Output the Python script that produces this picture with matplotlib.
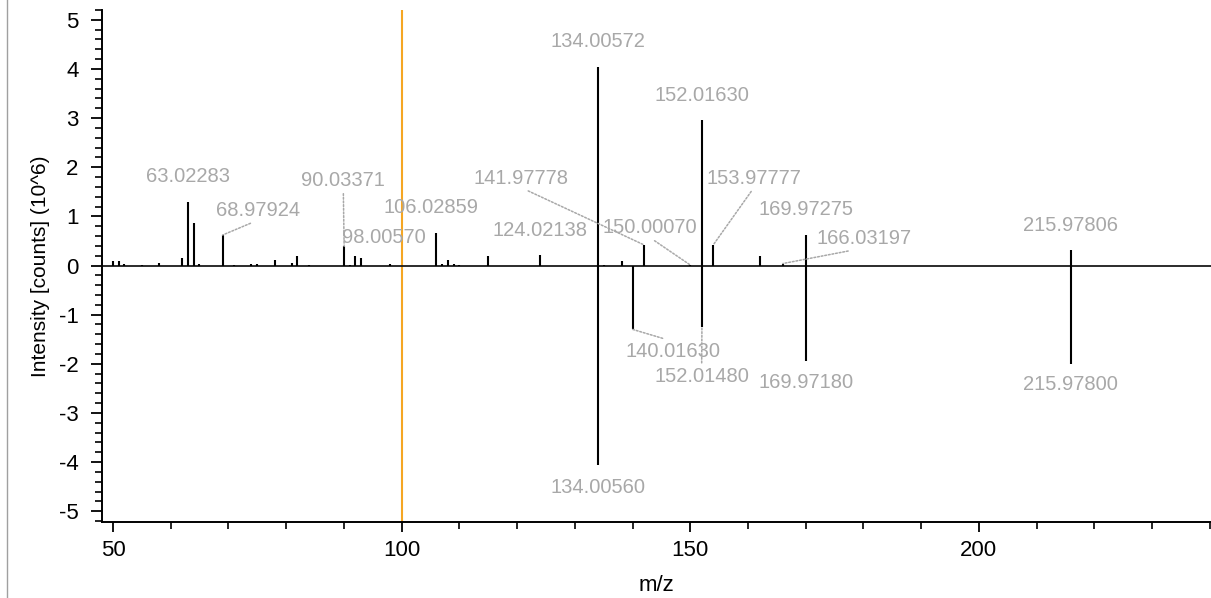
import numpy as np
import matplotlib
matplotlib.use("Agg")
import matplotlib.pyplot as plt
from matplotlib.lines import Line2D
from matplotlib.ticker import MultipleLocator

plt.rcParams["font.family"] = ["Liberation Sans", "DejaVu Sans"]
plt.rcParams["axes.unicode_minus"] = False

# measured spectrum (upper half)
sample_mz = [49.95, 51.05, 51.96, 54.97, 57.97, 61.96, 63.02283, 64.03, 64.96,
             68.97924, 70.98, 73.87, 74.90, 78.02, 80.97, 81.95, 83.93,
             90.03371, 91.10, 92.00, 93.00, 98.00570, 106.02859, 107.05,
             108.09, 109.00, 110.00, 115.03, 124.02138, 134.00572, 135.07,
             138.09, 141.97778, 150.00070, 152.01630, 153.97777, 162.10,
             166.03197, 169.97275, 215.97806]
sample_int = [0.095, 0.10, 0.03, 0.02, 0.05, 0.15, 1.30, 0.87, 0.04,
              0.62, 0.02, 0.03, 0.03, 0.12, 0.06, 0.20, 0.02,
              0.39, 0.02, 0.20, 0.15, 0.03, 0.67, 0.04,
              0.11, 0.03, 0.02, 0.20, 0.22, 4.05, 0.02,
              0.10, 0.42, 0.01, 2.96, 0.42, 0.20,
              0.04, 0.63, 0.31]

# reference spectrum (mirrored, lower half)
ref_mz = [134.00560, 140.01630, 152.01480, 169.97180, 215.97800]
ref_int = [-4.07, -1.30, -1.25, -1.94, -2.00]

labels_up = ["63.02283", "68.97924", "90.03371", "98.00570", "106.02859",
             "124.02138", "134.00572", "141.97778", "150.00070", "152.01630",
             "153.97777", "166.03197", "169.97275", "215.97806"]
labels_down = ["134.00560", "140.01630", "152.01480", "169.97180", "215.97800"]

# label text positions in data units (layout) and whether a leader is drawn
label_pos_up = [(62.94, 1.81, False), (75.17, 1.12, True), (89.89, 1.74, True),
                (96.94, 0.56, False), (105.08, 1.19, False), (123.96, 0.72, False),
                (134.01, 4.56, False), (120.67, 1.78, True), (142.90, 0.77, True),
                (151.97, 3.46, False), (161.03, 1.78, True), (180.09, 0.55, True),
                (169.99, 1.14, False), (215.89, 0.82, False)]
label_pos_down = [(134.06, -4.52, False), (147.05, -1.74, True), (151.97, -2.26, True),
                  (169.99, -2.38, False), (215.89, -2.43, False)]

LABEL_GRAY = "#a8a8a8"

fig = plt.figure(figsize=(12.11, 5.98), dpi=100)
ax = fig.add_axes([102 / 1211, 76 / 598, 1109 / 1211, 512 / 598])

ax.axvline(100, color="#f5a623", linewidth=1.5, zorder=1)
ax.vlines(sample_mz, 0, sample_int, color="black", linewidth=1.5, zorder=3)
ax.vlines(ref_mz, 0, ref_int, color="black", linewidth=1.5, zorder=3)
ax.axhline(0, color="#1a1a1a", linewidth=1.3, zorder=2)


def put_labels(names, positions, up):
    lookup = dict(zip(sample_mz, sample_int)) if up else dict(zip(ref_mz, ref_int))
    for name, (tx, ty, leader) in zip(names, positions):
        mz = float(name)
        inten = lookup[mz]
        props = None
        if leader:
            props = dict(arrowstyle="-", linestyle=(0, (1.2, 1.2)), color=LABEL_GRAY,
                         linewidth=1.1, relpos=(0.5, 0.0) if up else (0.5, 1.0),
                         shrinkA=1, shrinkB=0)
        ax.annotate(name, xy=(mz, inten), xytext=(tx, ty), textcoords="data",
                    ha="center", va="center", fontsize=14.5, color=LABEL_GRAY,
                    arrowprops=props, zorder=4)


put_labels(labels_up, label_pos_up, True)
put_labels(labels_down, label_pos_down, False)

ax.set_xlim(48.09, 240.2)
ax.set_ylim(-5.22, 5.2)

ax.xaxis.set_major_locator(MultipleLocator(50))
ax.xaxis.set_minor_locator(MultipleLocator(10))
ax.yaxis.set_major_locator(MultipleLocator(1))
ax.yaxis.set_minor_locator(MultipleLocator(0.2))

ax.tick_params(axis="both", which="major", direction="out", width=1.3,
               labelsize=16, colors="black")
ax.tick_params(axis="y", which="major", length=8, pad=9)
ax.tick_params(axis="x", which="major", length=7, pad=6)
ax.tick_params(axis="both", which="minor", direction="out", length=5, width=1.2)

for side in ["top", "right"]:
    ax.spines[side].set_visible(False)
for side in ["left", "bottom"]:
    ax.spines[side].set_linewidth(1.4)

ax.set_xlabel("m/z", fontsize=16)
ax.set_ylabel("Intensity [counts] (10^6)", fontsize=15)
ax.xaxis.set_label_coords(0.4995, -0.103)
ax.yaxis.set_label_coords(-0.047, 0.5)

# thin window border on the far left
fig.add_artist(Line2D([6.5 / 1211, 6.5 / 1211], [0, 1], color="#a0a0a0",
                      linewidth=1.0, transform=fig.transFigure))

fig.savefig("out.png", dpi=100)
